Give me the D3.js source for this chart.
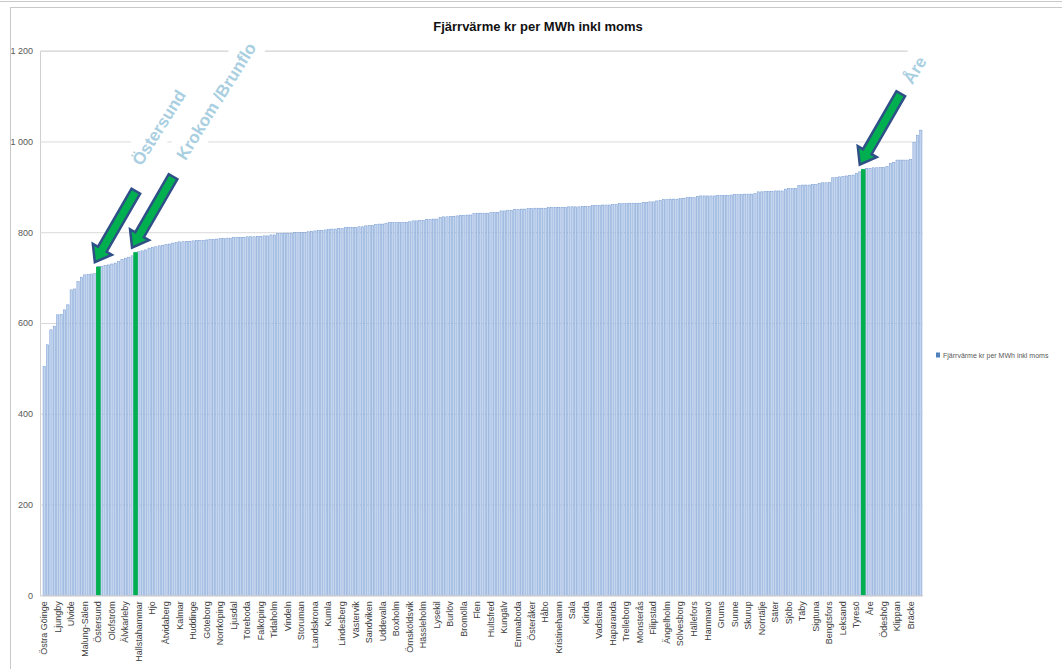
<!DOCTYPE html>
<html>
<head>
<meta charset="utf-8">
<script src="https://cdn.jsdelivr.net/npm/d3@7"></script>
<style>
  body { margin: 0; background: #fff; }
</style>
</head>
<body>
<div id="chart"></div>
<script>

var title = "Fjärrvärme kr per MWh inkl moms";
var seriesName = "Fjärrvärme kr per MWh inkl moms";

// every 4th bar carries a name on the x axis
var labels = ["Östra Göinge","Ljungby","Ulvide","Malung-Sälen","Östersund","Olofström","Älvkarleby",
  "Hallstahammar","Hjo","Åtvidaberg","Kalmar","Huddinge","Göteborg","Norrköping","Ljusdal","Töreboda",
  "Falköping","Tidaholm","Vindeln","Storuman","Landskrona","Kumla","Lindesberg","Västervik","Sandviken",
  "Uddevalla","Boxholm","Örnsköldsvik","Hässleholm","Lysekil","Burlöv","Bromölla","Flen","Hultsfred",
  "Kungälv","Emmaboda","Österåker","Håbo","Kristinehamn","Sala","Kinda","Vadstena","Haparanda",
  "Trelleborg","Mönsterås","Filipstad","Ängelholm","Sölvesborg","Hällefors","Hammarö","Grums","Sunne",
  "Skurup","Norrtälje","Säter","Sjöbo","Täby","Sigtuna","Bengtsfors","Leksand","Tyresö","Åre",
  "Ödeshög","Klippan","Bräcke"];

var values = [
  504, 552, 585, 593, 618, 619, 629, 640, 673, 675,
  691, 701, 706, 707, 708, 709, 724, 725, 727, 728,
  730, 732, 735, 740, 743, 745, 748, 756, 757, 759,
  761, 765, 767, 768, 770, 771, 773, 774, 776, 777,
  779, 779, 780, 780, 781, 782, 782, 782, 783, 784,
  784, 785, 786, 786, 787, 787, 788, 789, 789, 789,
  790, 790, 790, 791, 791, 792, 792, 794, 794, 797,
  797, 798, 798, 798, 799, 799, 799, 800, 801, 802,
  803, 804, 804, 805, 806, 807, 807, 808, 808, 810,
  811, 811, 811, 812, 812, 814, 815, 815, 817, 818,
  818, 820, 821, 821, 821, 822, 822, 822, 823, 825,
  825, 826, 826, 828, 828, 829, 829, 833, 834, 834,
  835, 835, 836, 837, 837, 838, 838, 841, 842, 842,
  842, 842, 843, 843, 844, 847, 847, 848, 848, 850,
  850, 851, 851, 852, 852, 853, 853, 853, 853, 854,
  854, 855, 855, 855, 855, 856, 856, 856, 856, 857,
  857, 857, 859, 859, 859, 860, 860, 860, 861, 861,
  863, 863, 863, 864, 864, 864, 864, 866, 866, 867,
  867, 869, 870, 872, 872, 873, 873, 873, 874, 875,
  876, 876, 876, 879, 880, 880, 880, 880, 880, 881,
  881, 881, 881, 882, 883, 883, 883, 884, 884, 884,
  885, 889, 889, 890, 890, 890, 891, 891, 891, 895,
  896, 896, 897, 903, 904, 904, 904, 905, 905, 908,
  909, 909, 910, 920, 921, 922, 923, 924, 925, 926,
  930, 933, 939, 941, 941, 942, 942, 943, 943, 945,
  952, 954, 959, 959, 959, 959, 960, 998, 1014, 1025];

var yTicks = [0, 200, 400, 600, 800, 1000, 1200];

// highlighted municipalities: bar index and the callout text
var marked = [16, 27, 242];
var markedText = ["Östersund", "Krokom /Brunflo", "Åre"];
var textOffset = [[43, -100], [50, -91], [49, -84]];

var cats = d3.range(values.length);

var w = 1062, h = 669;
var plotLeft = 40, plotRight = 922.5, plotTop = 50.7, plotBottom = 595.3;

var svg = d3.select("#chart")
            .append("svg")
            .attr("width", w)
            .attr("height", h)
            .style("font-family", "'Liberation Sans', Arial, sans-serif");

// chart frame
svg.append("line")
    .attr("x1", 0).attr("x2", w).attr("y1", 1.5).attr("y2", 1.5)
    .attr("stroke", "#c9c9c9");
svg.append("rect")
    .attr("x", 10.5).attr("y", 7.5).attr("width", w).attr("height", h)
    .attr("fill", "none").attr("stroke", "#c9c9c9");

var x = d3.scaleBand()
          .domain(cats)
          .range([plotLeft + 2.5, plotRight])
          .paddingInner(0.32)
          .paddingOuter(0.16);

var y = d3.scaleLinear()
          .domain([0, 1200])
          .range([plotBottom, plotTop]);

var sv = d3.formatLocale({decimal: ",", thousands: " ", grouping: [3], currency: ["", ""]});

var yAxis = d3.axisLeft(y)
              .tickValues(yTicks)
              .tickFormat(sv.format(","))
              .tickSize(-(plotRight - plotLeft))
              .tickPadding(7);

var gy = svg.append("g")
    .attr("transform", "translate(" + plotLeft + ",0)")
    .call(yAxis);
gy.select(".domain").attr("stroke", "#d0d0d0");
gy.selectAll(".tick line").attr("stroke", "#d9d9d9");
gy.selectAll(".tick text")
    .attr("fill", "#595959")
    .attr("font-size", "9px")
    .attr("font-family", "'Liberation Sans', Arial, sans-serif");

svg.selectAll("rect.bar")
    .data(values)
    .enter()
    .append("rect")
    .attr("class", "bar")
    .attr("x", function(d, i) { return x(i); })
    .attr("y", function(d) { return y(d); })
    .attr("width", x.bandwidth())
    .attr("height", function(d) { return y(0) - y(d); })
    .attr("fill", "#c3d4ee")
    .attr("stroke", "#7097d0")
    .attr("stroke-width", 0.5);

// green highlight bars
svg.selectAll("rect.mark")
    .data(marked)
    .enter()
    .append("rect")
    .attr("class", "mark")
    .attr("x", function(d) { return x(d) + x.bandwidth() / 2 - 2.3; })
    .attr("y", function(d) { return y(values[d]); })
    .attr("width", 4.6)
    .attr("height", function(d) { return y(0) - y(values[d]); })
    .attr("fill", "#00b050");

var xAxis = d3.axisBottom(x)
              .tickValues(cats.filter(function(i) { return i % 4 == 0; }))
              .tickFormat(function(i) { return labels[i / 4]; })
              .tickSize(0);

var gx = svg.append("g")
    .attr("transform", "translate(0," + y(0) + ")")
    .call(xAxis);
gx.select(".domain").attr("stroke", "#d0d0d0");
gx.selectAll(".tick text")
    .attr("transform", "rotate(-90)")
    .attr("text-anchor", "end")
    .attr("x", -6)
    .attr("y", 0)
    .attr("dy", "0.33em")
    .attr("fill", "#404040")
    .attr("font-size", "9px")
    .attr("font-family", "'Liberation Sans', Arial, sans-serif");

// callout texts with their white boxes
var callouts = svg.selectAll("g.callout")
    .data(marked)
    .enter()
    .append("g")
    .attr("class", "callout")
    .attr("transform", function(d, i) {
        var cx = x(d) + x.bandwidth() / 2 + textOffset[i][0];
        var cy = y(values[d]) + textOffset[i][1];
        return "translate(" + cx + "," + cy + ") rotate(-58)";
    });

callouts.append("text")
    .text(function(d, i) { return markedText[i]; })
    .attr("font-size", "17px")
    .attr("font-weight", "bold")
    .attr("fill", "#a9cfe1")
    .each(function() {
        var b = this.getBBox();
        d3.select(this.parentNode).insert("rect", "text")
            .attr("x", b.x - 6)
            .attr("y", b.y - 7)
            .attr("width", b.width + 14)
            .attr("height", b.height + 12)
            .attr("fill", "#fff");
    });

// arrows pointing at the bar tops
var arrowLen = 82;
var arrowPath = "M0,-5 L" + (arrowLen - 15) + ",-5 L" + (arrowLen - 15) + ",-11 L" + arrowLen +
    ",0 L" + (arrowLen - 15) + ",11 L" + (arrowLen - 15) + ",5 L0,5 Z";
var arrowAngle = Math.atan2(71, -41) * 180 / Math.PI;

svg.selectAll("path.arrow")
    .data(marked)
    .enter()
    .append("path")
    .attr("class", "arrow")
    .attr("d", arrowPath)
    .attr("transform", function(d) {
        var tx = x(d) + x.bandwidth() / 2 - 3.5 + 41;
        var ty = y(values[d]) - 4.5 - 71;
        return "translate(" + tx + "," + ty + ") rotate(" + arrowAngle + ")";
    })
    .attr("fill", "#00b050")
    .attr("stroke", "#2f4f87")
    .attr("stroke-width", 2.5)
    .attr("stroke-linejoin", "miter");

svg.append("text")
    .attr("x", 538)
    .attr("y", 31)
    .attr("text-anchor", "middle")
    .text(title)
    .attr("font-size", "13px")
    .attr("font-weight", "bold")
    .attr("fill", "#111");

// legend
svg.append("rect")
    .attr("x", 936).attr("y", 352.5)
    .attr("width", 4).attr("height", 5)
    .attr("fill", "#4f81bd");
svg.append("text")
    .attr("x", 943)
    .attr("y", 358)
    .text(seriesName)
    .attr("font-size", "7px")
    .attr("fill", "#595959");

</script>
</body>
</html>
